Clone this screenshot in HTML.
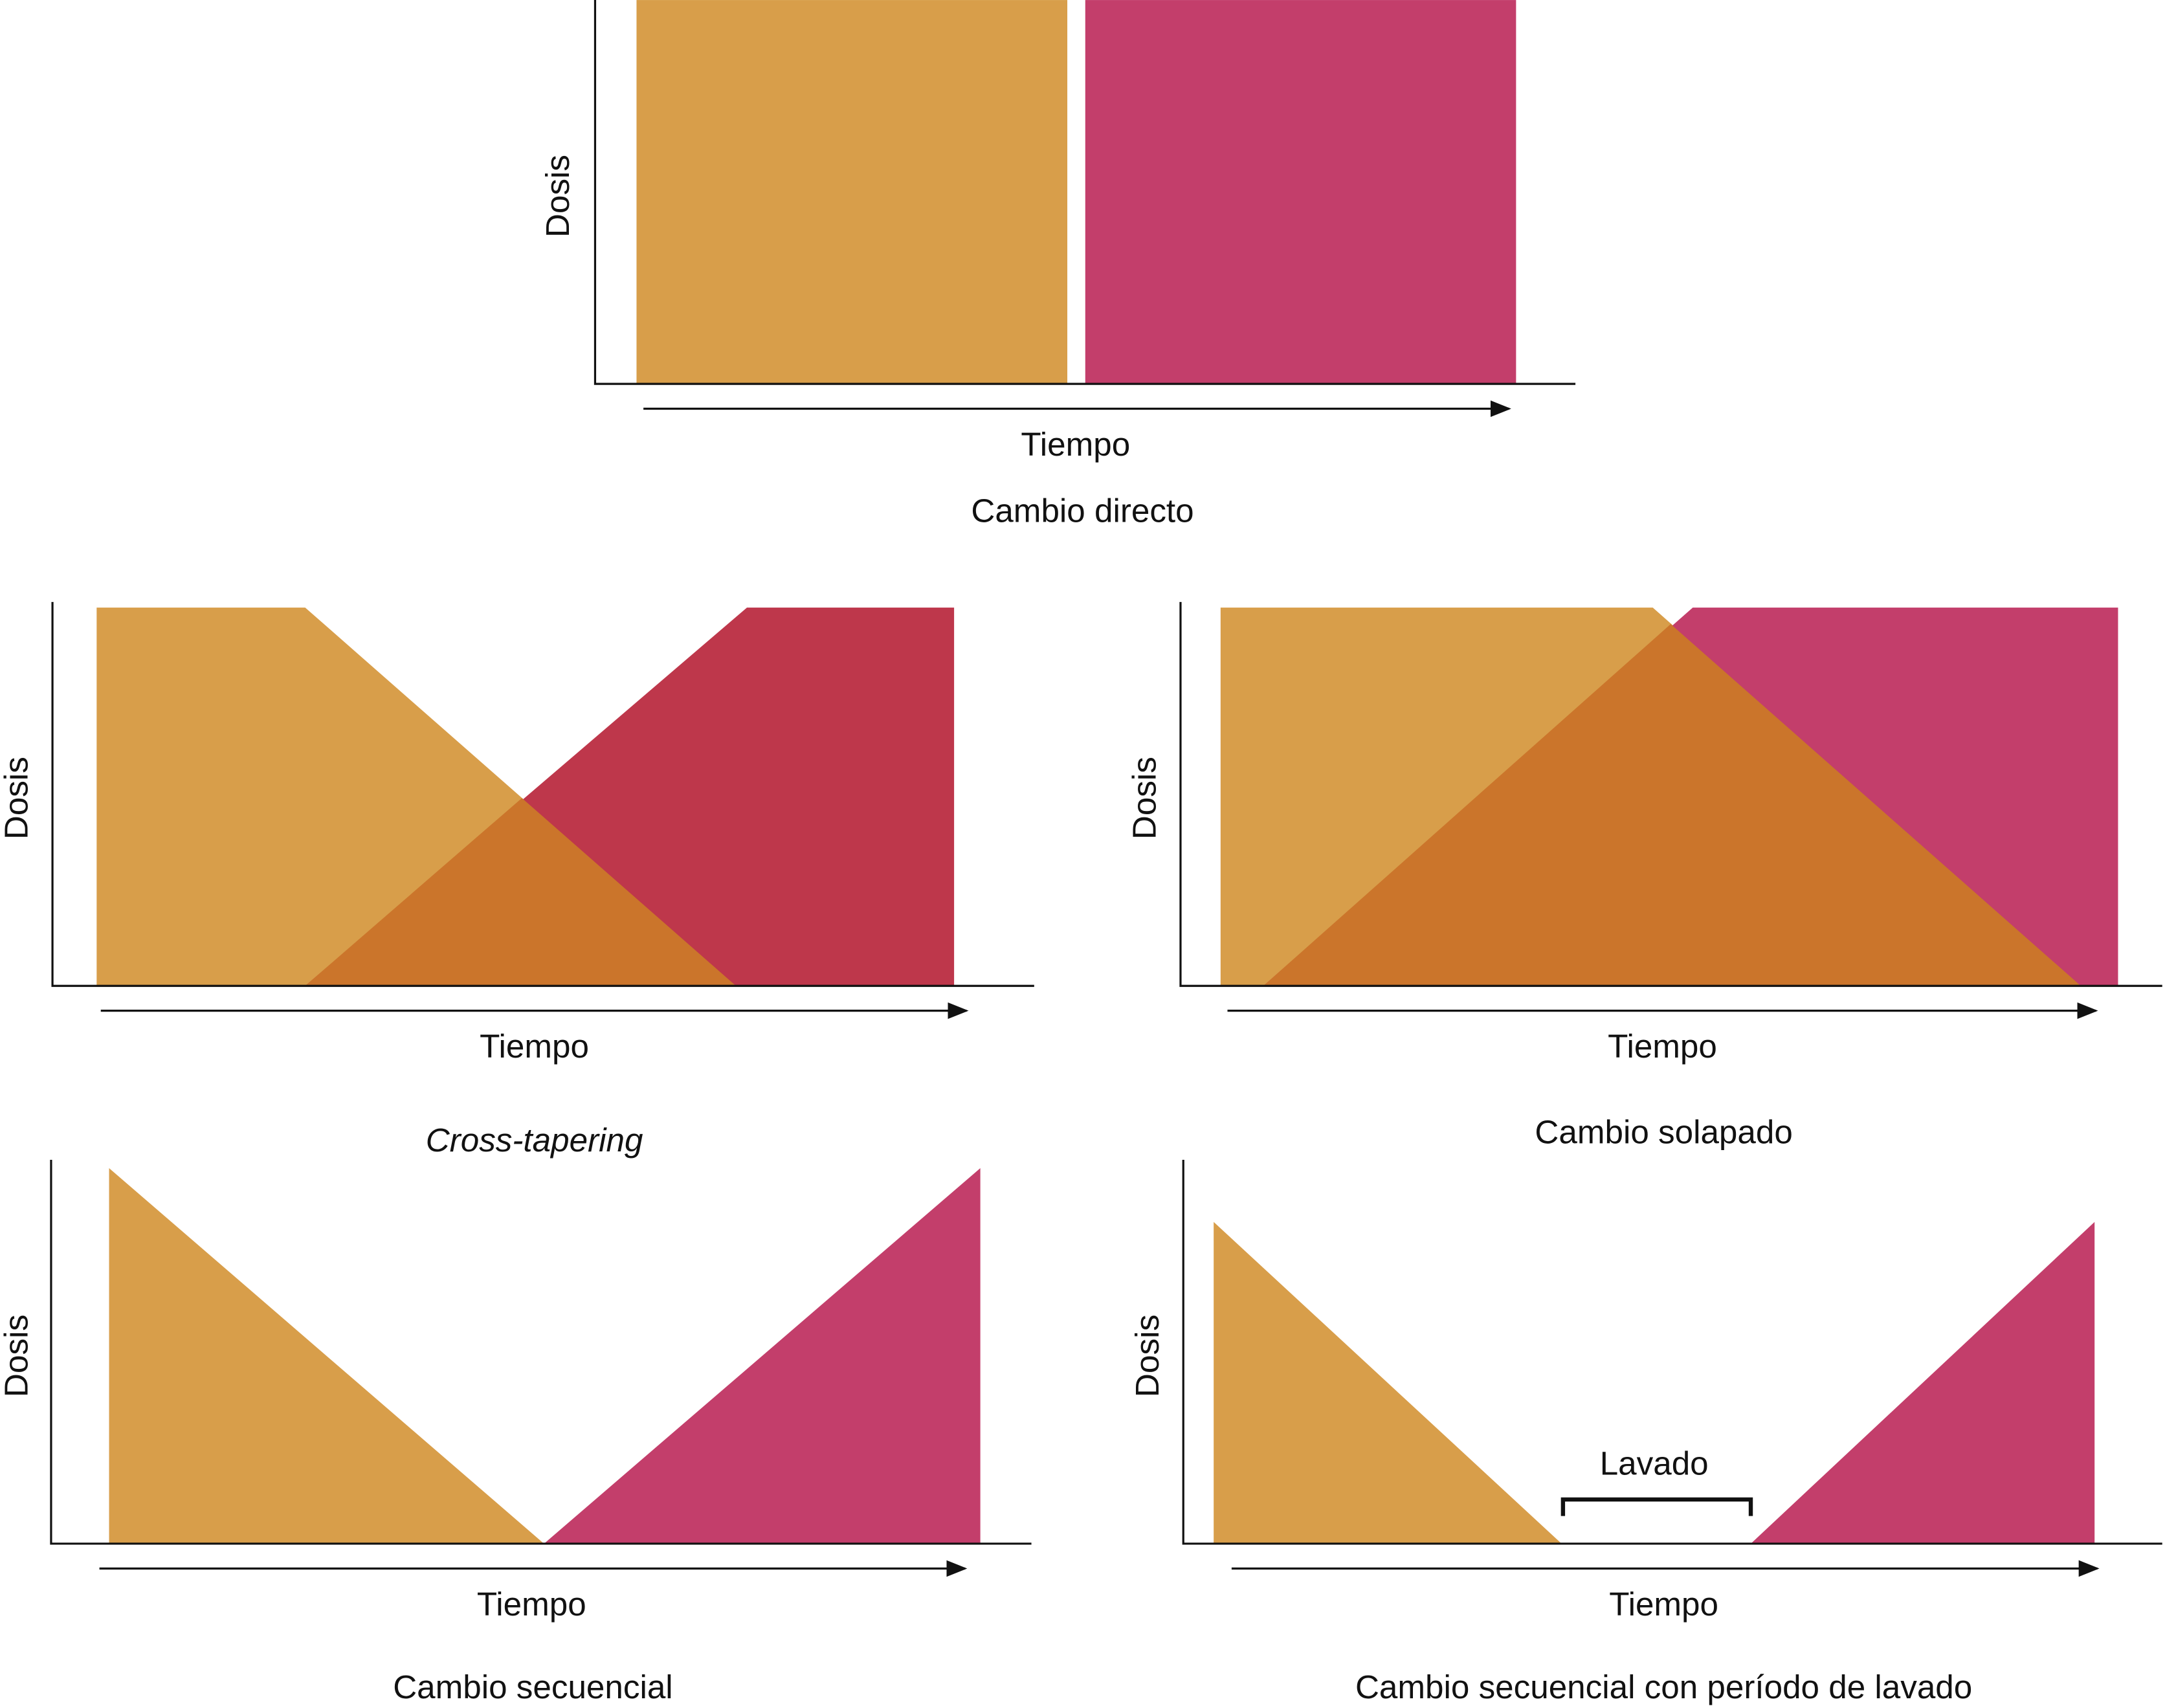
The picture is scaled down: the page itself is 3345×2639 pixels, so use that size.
<!DOCTYPE html>
<html><head><meta charset="utf-8"><style>
html,body{margin:0;padding:0;background:#fff}
svg{display:block}
text{font-family:"Liberation Sans",sans-serif;font-size:24px;fill:#111}
</style></head><body>
<svg width="3345" height="2639" viewBox="0 0 1568 1237" xmlns="http://www.w3.org/2000/svg">
<defs><marker id="ah" markerWidth="10" markerHeight="8" refX="9" refY="4" orient="auto"><path d="M0,0 L10,4 L0,8z" fill="#111"/></marker></defs>
<script>
const ORANGE="#D89E4A", MAGENTA="#C33E6B", OVERLAP="#CB752B", CRIMSON="#BE374B";
</script>
<g>
<rect x="461" y="0" width="312" height="278" fill="#D89E4A"/>
<rect x="786" y="0" width="312" height="278" fill="#C33E6B"/>
<polyline points="431,0 431,278 1141,278" fill="none" stroke="#111" stroke-width="1.5"/>
<line x1="466" y1="296" x2="1093" y2="296" stroke="#111" stroke-width="1.5" marker-end="url(#ah)"/>
<text x="779" y="330" text-anchor="middle">Tiempo</text>
<text x="784" y="378" text-anchor="middle">Cambio directo</text>
<text transform="translate(412,142) rotate(-90)" text-anchor="middle">Dosis</text>
</g>
<g>
<polygon points="70,440 221,440 533,714 70,714" fill="#D89E4A"/>
<polygon points="221,714 541,440 691,440 691,714" fill="#BE374B"/>
<polygon points="221,714 378,578 533,714" fill="#CB752B"/>
<polyline points="38,436 38,714 749,714" fill="none" stroke="#111" stroke-width="1.5"/>
<line x1="73" y1="732" x2="700" y2="732" stroke="#111" stroke-width="1.5" marker-end="url(#ah)"/>
<text x="387" y="766" text-anchor="middle">Tiempo</text>
<text x="387" y="834" text-anchor="middle" font-style="italic">Cross-tapering</text>
<text transform="translate(20,578) rotate(-90)" text-anchor="middle">Dosis</text>
</g>
<g>
<polygon points="884,440 1197,440 1507,714 884,714" fill="#D89E4A"/>
<polygon points="915,714 1226,440 1534,440 1534,714" fill="#C33E6B"/>
<polygon points="915,714 1210,452 1507,714" fill="#CB752B"/>
<polyline points="855,436 855,714 1566,714" fill="none" stroke="#111" stroke-width="1.5"/>
<line x1="889" y1="732" x2="1518" y2="732" stroke="#111" stroke-width="1.5" marker-end="url(#ah)"/>
<text x="1204" y="766" text-anchor="middle">Tiempo</text>
<text x="1205" y="828" text-anchor="middle">Cambio solapado</text>
<text transform="translate(837,578) rotate(-90)" text-anchor="middle">Dosis</text>
</g>
<g>
<polygon points="79,846 79,1118 394,1118" fill="#D89E4A"/>
<polygon points="394,1118 710,846 710,1118" fill="#C33E6B"/>
<polyline points="37,840 37,1118 747,1118" fill="none" stroke="#111" stroke-width="1.5"/>
<line x1="72" y1="1136" x2="699" y2="1136" stroke="#111" stroke-width="1.5" marker-end="url(#ah)"/>
<text x="385" y="1170" text-anchor="middle">Tiempo</text>
<text x="386" y="1230" text-anchor="middle">Cambio secuencial</text>
<text transform="translate(20,982) rotate(-90)" text-anchor="middle">Dosis</text>
</g>
<g>
<polygon points="879,885 879,1118 1131,1118" fill="#D89E4A"/>
<polygon points="1268,1118 1517,885 1517,1118" fill="#C33E6B"/>
<polyline points="857,840 857,1118 1566,1118" fill="none" stroke="#111" stroke-width="1.5"/>
<polyline points="1132,1098 1132,1086 1268,1086 1268,1098" fill="none" stroke="#111" stroke-width="3"/>
<text x="1198" y="1068" text-anchor="middle">Lavado</text>
<line x1="892" y1="1136" x2="1519" y2="1136" stroke="#111" stroke-width="1.5" marker-end="url(#ah)"/>
<text x="1205" y="1170" text-anchor="middle">Tiempo</text>
<text x="1205" y="1230" text-anchor="middle">Cambio secuencial con período de lavado</text>
<text transform="translate(839,982) rotate(-90)" text-anchor="middle">Dosis</text>
</g>
</svg>
</body></html>
